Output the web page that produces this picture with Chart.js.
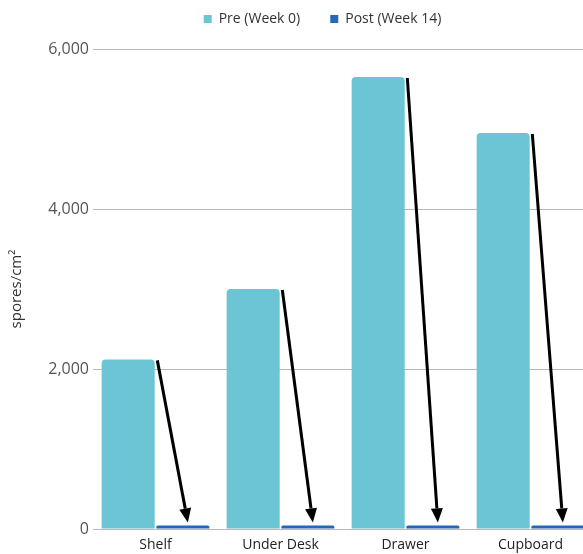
<!DOCTYPE html>
<html>
<head>
<meta charset="utf-8">
<script src="https://cdn.jsdelivr.net/npm/chart.js@4"></script>
<style>
  html, body { margin: 0; padding: 0; background: #fff; overflow: hidden; }
  #wrap { width: 600px; height: 554px; }
</style>
</head>
<body>
<div id="wrap"><canvas id="sporeChart" width="600" height="554"></canvas></div>
<script>
const locations = ['Shelf', 'Under Desk', 'Drawer', 'Cupboard'];
const preWeek0 = [2120, 3000, 5650, 4950];
const postWeek14 = [45, 45, 45, 45];
const yTicks = [0, 2000, 4000, 6000];

const preColor = '#6cc5d4';
const postColor = '#2468b8';

// arrows from the top of each "pre" bar down to its "post" bar
const arrowPlugin = {
  id: 'dropArrows',
  afterDatasetsDraw(chart) {
    const ctx = chart.ctx;
    const pre = chart.getDatasetMeta(0).data;
    const post = chart.getDatasetMeta(1).data;
    ctx.save();
    ctx.strokeStyle = '#000';
    ctx.fillStyle = '#000';
    ctx.lineWidth = 3;
    for (let i = 0; i < pre.length; i++) {
      const x0 = post[i].x - post[i].width / 2 + 1;
      const y0 = pre[i].y + 1;
      const x1 = post[i].x + 5;
      const y1 = post[i].y - 3;
      const ang = Math.atan2(y1 - y0, x1 - x0);
      const head = 14, half = 6;
      const bx = x1 - head * Math.cos(ang), by = y1 - head * Math.sin(ang);
      ctx.beginPath();
      ctx.moveTo(x0, y0);
      ctx.lineTo(bx, by);
      ctx.stroke();
      ctx.beginPath();
      ctx.moveTo(x1, y1);
      ctx.lineTo(bx + half * Math.sin(ang), by - half * Math.cos(ang));
      ctx.lineTo(bx - half * Math.sin(ang), by + half * Math.cos(ang));
      ctx.closePath();
      ctx.fill();
    }
    ctx.restore();
  }
};

// nudge the legend to sit where the reference has it
const legendShift = {
  id: 'legendShift',
  afterLayout(chart) {
    const lg = chart.legend;
    lg.left += 26;
    lg.right += 26;
    lg.top -= 13;
    lg.bottom -= 13;
  }
};

new Chart(document.getElementById('sporeChart'), {
  type: 'bar',
  data: {
    labels: locations,
    datasets: [{
      label: 'Pre (Week 0)',
      data: preWeek0,
      backgroundColor: preColor,
      borderRadius: { topLeft: 4, topRight: 4 },
      borderSkipped: 'bottom',
      barPercentage: 0.97,
      categoryPercentage: 0.875
    }, {
      label: 'Post (Week 14)',
      data: postWeek14,
      backgroundColor: postColor,
      borderRadius: { topLeft: 2, topRight: 2 },
      borderSkipped: 'bottom',
      barPercentage: 0.97,
      categoryPercentage: 0.875
    }]
  },
  plugins: [arrowPlugin, legendShift],
  options: {
    responsive: false,
    animation: false,
    layout: { padding: { top: -5, right: 7, left: 0, bottom: 0 } },
    plugins: {
      legend: {
        display: true,
        position: 'top',
        labels: {
          boxWidth: 8,
          boxHeight: 8,
          padding: 30,
          color: '#333',
          font: { family: 'Open Sans', size: 14 }
        }
      },
      tooltip: { enabled: false }
    },
    scales: {
      x: {
        grid: { display: false },
        border: { display: false },
        ticks: {
          color: '#222',
          padding: 0,
          font: { family: 'Open Sans', size: 14 }
        },
        afterFit(scale) { scale.height = 25; }
      },
      y: {
        min: 0,
        max: 6000,
        afterBuildTicks(scale) { scale.ticks = yTicks.map(v => ({ value: v })); },
        grid: { color: '#b8b8b8', lineWidth: 1, drawTicks: false },
        border: { display: false },
        ticks: {
          color: '#555',
          padding: 4,
          font: { family: 'Open Sans', size: 16 },
          callback: v => v.toLocaleString('en-US')
        },
        title: {
          display: true,
          text: 'spores/cm²',
          color: '#333',
          padding: { top: 8, bottom: 0 },
          font: { family: 'Open Sans', size: 15 }
        },
        afterFit(scale) { scale.width = 93; }
      }
    }
  }
});
</script>
</body>
</html>
